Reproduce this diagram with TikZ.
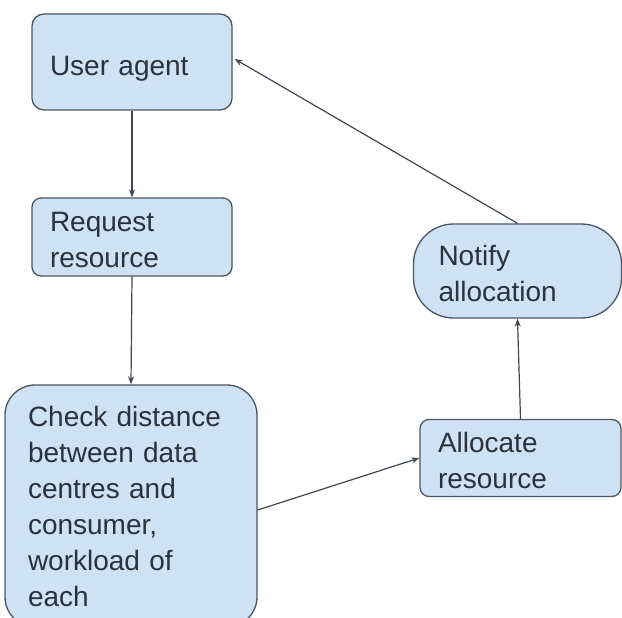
\documentclass[tikz,border=0pt]{standalone}
\usepackage{fontspec}
\setmainfont{Liberation Sans}
\usetikzlibrary{arrows.meta}
\definecolor{boxfill}{HTML}{CFE2F3}
\definecolor{boxline}{HTML}{4A5663}
\definecolor{txt}{HTML}{2A323C}
\definecolor{wire}{HTML}{3F4750}
\begin{document}
\begin{tikzpicture}[x=1pt,y=-1pt,
  flowbox/.style={draw=boxline, line width=1.3pt, fill=boxfill,
    text=txt, align=left, inner sep=0pt,
    font=\fontsize{28}{36}\selectfont},
  % taller first line, to set the text a little lower in its box
  lowered/.style={execute at begin node={\rule{0pt}{#1}}},
  link/.style={draw=wire, line width=1.2pt,
    -{Stealth[length=8pt,width=6pt]}}]
  \useasboundingbox (0,0) rectangle (622,618);
  \begin{scope}
    \clip (0,0) rectangle (622,618);
    % process boxes
    \node[flowbox, lowered=32pt, rounded corners=12pt, minimum width=200pt,
          minimum height=96pt, text width=164pt] (ua) at (132,62) {User agent};
    \node[flowbox, lowered=26pt, rounded corners=9pt, minimum width=200pt,
          minimum height=78pt, text width=164pt] (req) at (132,237) {Request\\resource};
    \node[flowbox, rounded corners=30pt, minimum width=252pt, minimum height=242pt,
          text width=206pt] (chk) at (131,506)
          {Check distance\\between data\\centres and\\consumer,\\workload of\\each};
    \node[flowbox, lowered=26pt, rounded corners=9pt, minimum width=201pt,
          minimum height=77pt, text width=165pt] (alloc) at (520.5,458) {Allocate\\resource};
    \node[flowbox, lowered=26pt, rounded corners=40pt, minimum width=208pt,
          minimum height=94pt, text width=158pt] (notify) at (517.5,271) {Notify\\allocation};
    % connectors
    \draw[link] (ua.south) -- (req.north);
    \draw[link] (req.south) -- (chk.north);
    \draw[link] ([yshift=-4pt]chk.east) -- (alloc.west);
    \draw[link] (alloc.north) -- (notify.south);
    \draw[link] (notify.north) -- ([xshift=2pt,yshift=3pt]ua.east);
  \end{scope}
\end{tikzpicture}
\end{document}
